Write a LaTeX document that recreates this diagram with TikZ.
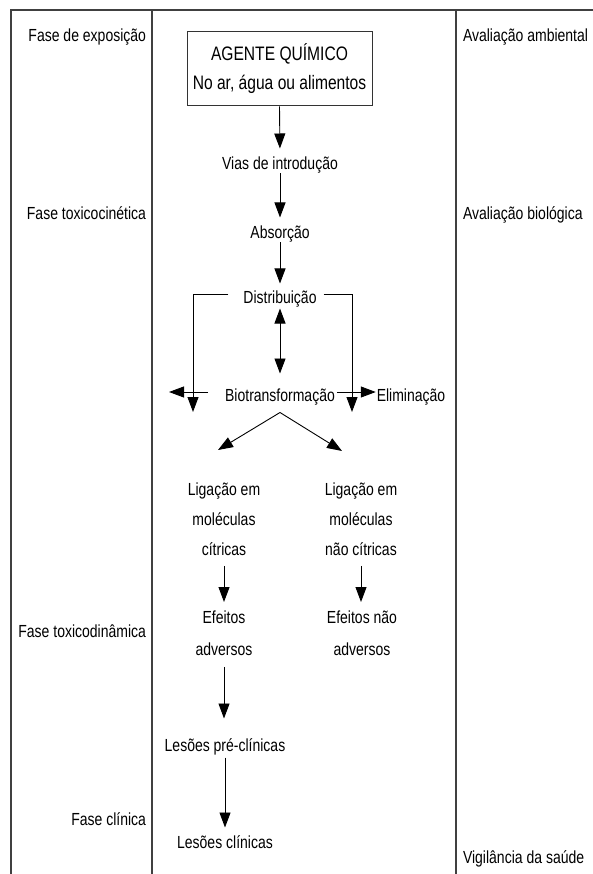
\documentclass[tikz,border=0pt]{standalone}
\usepackage{fontspec}
\setmainfont{Liberation Sans}[FakeStretch=0.8]
\usetikzlibrary{arrows.meta}
\begin{document}
\begin{tikzpicture}[x=1pt,y=-1pt,
  t/.style={inner sep=0pt,outer sep=0pt,font=\fontsize{17.5}{20}\selectfont,text height=13pt,text depth=4pt},
  ml/.style={inner sep=0pt,outer sep=0pt,align=center,anchor=north},
  arr/.style={draw=black,line width=0.9pt,-{Triangle[length=15pt,width=11pt]}},
  darr/.style={draw=black,line width=0.9pt,{Triangle[length=15pt,width=11pt]}-{Triangle[length=15pt,width=11pt]}},
  frame/.style={draw=black!75,line width=1.3pt}]

\useasboundingbox (0,0) rectangle (593,874);
\fill[white] (0,0) rectangle (593,874);
\draw[frame] (11,874) -- (11,10) -- (593,10);
\draw[frame] (152,10) -- (152,874);
\draw[frame] (456,10) -- (456,874);

\node[draw=black!80,line width=1pt,minimum width=185pt,minimum height=74pt,inner sep=0pt,align=center,font=\fontsize{19.5}{29}\selectfont] (box) at (279.5,69) {AGENTE QUÍMICO\\No ar, água ou alimentos};

\node[t] (vias) at (280,165) {Vias de introdução};
\node[t] (abs) at (280,234) {Absorção};
\node[t] (dist) at (280,299) {Distribuição};
\node[t] (bio) at (280,397) {Biotransformação};
\node[t] (elim) at (411,397) {Eliminação};
\node[ml,font=\fontsize{17.5}{30}\selectfont] (lig1) at (224,483) {Ligação em\\moléculas\\cítricas};
\node[ml,font=\fontsize{17.5}{30}\selectfont] (lig2) at (361,483) {Ligação em\\moléculas\\não cítricas};
\node[ml,font=\fontsize{17.5}{32}\selectfont] (ef1) at (224,611) {Efeitos\\adversos};
\node[ml,font=\fontsize{17.5}{32}\selectfont] (ef2) at (362,611) {Efeitos não\\adversos};
\node[t] (pre) at (225,747) {Lesões pré-clínicas};
\node[t] (cli) at (225,844) {Lesões clínicas};

\node[t,anchor=east] (f1) at (146,37) {Fase de exposição};
\node[t,anchor=east] (f2) at (146,215) {Fase toxicocinética};
\node[t,anchor=east] (f3) at (146,633) {Fase toxicodinâmica};
\node[t,anchor=east] (f4) at (146,821) {Fase clínica};
\node[t,anchor=west] (r1) at (463,37) {Avaliação ambiental};
\node[t,anchor=west] (r2) at (463,215) {Avaliação biológica};
\node[t,anchor=west] (r3) at (463,859) {Vigilância da saúde};

\draw[arr,shorten >=8pt] (box.south) -- (vias.north);
\draw[arr,shorten >=8pt] (vias.south) -- (abs.north);
\draw[arr,shorten >=7pt] (abs.south) -- (dist.north);
\draw[darr,shorten >=15pt,shorten <=1pt] (dist.south) -- (bio.north);

\coordinate (bl) at (193,412);
\coordinate (br) at (352,412);
\draw[arr] ([xshift=-15pt,yshift=5pt]dist.west) -| (bl);
\draw[arr] ([xshift=7pt,yshift=5pt]dist.east) -| (br);

\coordinate (lout) at (169,392);
\draw[arr] ([xshift=-17pt,yshift=5pt]bio.west) -- (lout);
\draw[arr] ([xshift=2pt,yshift=5pt]bio.east) -- ([xshift=-1pt,yshift=5pt]elim.west);

\coordinate (apex) at ([yshift=-7pt]bio.south);
\coordinate (vl) at (218,450);
\coordinate (vr) at (342,451);
\draw[arr] (apex) -- (vl);
\draw[arr] (apex) -- (vr);

\draw[arr,shorten <=10pt,shorten >=9pt] (lig1.south) -- (lig1.south |- ef1.north);
\draw[arr,shorten <=10pt,shorten >=9pt] (lig2.south) -- (lig2.south |- ef2.north);
\draw[arr,shorten <=11pt,shorten >=20pt] (ef1.south) -- (ef1.south |- pre.north);
\draw[arr,shorten <=2pt,shorten >=8pt] (pre.south) -- (pre.south |- cli.north);
\end{tikzpicture}
\end{document}
